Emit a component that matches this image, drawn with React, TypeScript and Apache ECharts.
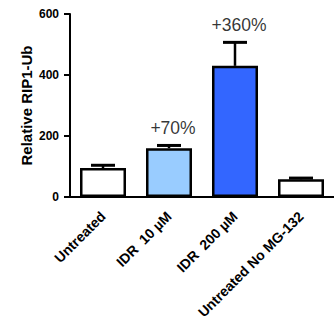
import React, { useEffect, useRef } from "react";
import * as echarts from "echarts";

const categories = ["Untreated", "IDR  10 µM", "IDR  200 µM", "Untreated No MG-132"];
const values = [95, 160, 430, 58];
const errors = [9, 9, 77, 4];
const barColors = ["#FFFFFF", "#99CCFF", "#3366FF", "#FFFFFF"];
const changeLabels = ["", "+70%", "+360%", ""];
const yTicks = { min: 0, max: 600, interval: 200 };

const FONT = "Arial, 'Liberation Sans', Helvetica, sans-serif";

export default function App() {
  const ref = useRef<HTMLDivElement>(null);
  useEffect(() => {
    if (!ref.current) return;
    const chart = echarts.init(ref.current, null, { renderer: "svg" });
    chart.setOption({
      animation: false,
      backgroundColor: "#FFFFFF",
      grid: { left: 70, top: 14, width: 276, height: 183 },
      xAxis: {
        type: "category",
        data: categories,
        axisLine: { lineStyle: { color: "#000", width: 2 } },
        axisTick: { alignWithLabel: true, length: 6, lineStyle: { color: "#000", width: 2 } },
        axisLabel: {
          rotate: 45,
          interval: 0,
          margin: 17,
          color: "#000",
          fontFamily: FONT,
          fontWeight: "bold",
          fontSize: 14,
        },
      },
      yAxis: {
        type: "value",
        min: yTicks.min,
        max: yTicks.max,
        interval: yTicks.interval,
        name: "Relative RIP1-Ub",
        nameLocation: "middle",
        nameGap: 36,
        nameMoveOverlap: false,
        nameTextStyle: { color: "#000", fontFamily: FONT, fontWeight: "bold", fontSize: 15 },
        splitLine: { show: false },
        axisLine: { show: true, lineStyle: { color: "#000", width: 2 } },
        axisTick: { show: true, length: 6, lineStyle: { color: "#000", width: 2 } },
        axisLabel: { margin: 11, color: "#000", fontFamily: FONT, fontWeight: "bold", fontSize: 12 },
      },
      series: [
        {
          type: "bar",
          barWidth: 46,
          data: values.map((v, i) => ({
            value: v,
            itemStyle: { color: barColors[i], borderColor: "#000", borderWidth: 2.5 },
          })),
          z: 2,
        },
        {
          type: "custom",
          z: 3,
          data: values.map((v, i) => [i, v, errors[i]]),
          renderItem: (params: any, api: any) => {
            const x = api.value(0);
            const v = api.value(1);
            const e = api.value(2);
            const base = api.coord([x, v]);
            const top = api.coord([x, v + e]);
            return {
              type: "group",
              children: [
                {
                  type: "line",
                  shape: { x1: base[0], y1: base[1], x2: top[0], y2: top[1] },
                  style: { stroke: "#000", lineWidth: 2.5 },
                },
                {
                  type: "line",
                  shape: { x1: top[0] - 12, y1: top[1], x2: top[0] + 12, y2: top[1] },
                  style: { stroke: "#000", lineWidth: 3 },
                },
              ],
            };
          },
        },
        {
          type: "scatter",
          symbolSize: 0,
          z: 4,
          data: values.map((v, i) => [i, v + errors[i]]),
          label: {
            show: true,
            position: "top",
            distance: 8,
            offset: [4, 0],
            color: "#000",
            fontFamily: FONT,
            fontSize: 17.5,
            formatter: (p: any) => changeLabels[p.dataIndex],
          },
        },
      ],
    });
    return () => chart.dispose();
  }, []);
  return <div ref={ref} style={{ width: 334, height: 326, position: "absolute", left: 0, top: 0 }} />;
}
